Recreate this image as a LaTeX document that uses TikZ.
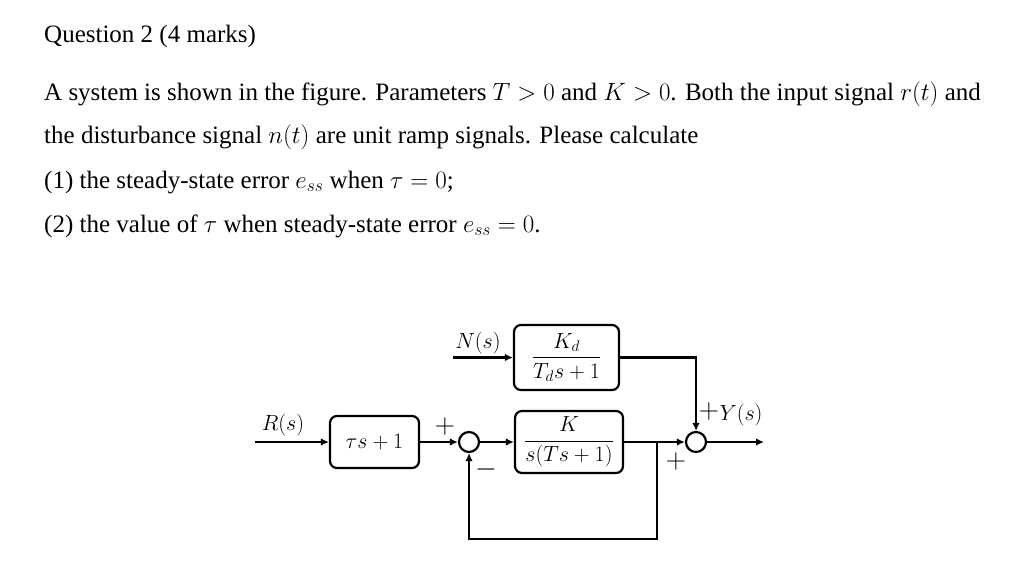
\RequirePackage{fix-cm}
\documentclass[tikz,border=0pt]{standalone}
\usepackage{amsmath}
\usepackage{fontspec}
\setmainfont{Liberation Serif}
\usetikzlibrary{arrows.meta}
\begin{document}
\begin{tikzpicture}[x=1pt,y=-1pt,
  blk/.style={draw, line width=2.2pt, rounded corners=7pt, inner sep=0pt, font=\fontsize{22}{25}\selectfont},
  sumc/.style={draw, line width=2.2pt, circle, minimum size=20pt, inner sep=0pt},
  arr/.style={line width=2.2pt, -{Latex[length=8pt,width=7.5pt]}},
  lbl/.style={inner sep=0pt, font=\fontsize{22}{25}\selectfont},
  sgn/.style={inner sep=0pt, font=\fontsize{28}{30}\selectfont},
  txt/.style={anchor=base west, inner sep=0pt, font=\fontsize{25}{30}\selectfont}]
\useasboundingbox[fill=white] (0,0) rectangle (1017,576);
% text
\node[txt] (t1) at (44,42) {Question 2 (4 marks)};
\node[txt] (t2) at (44,100) {A system is shown in the figure. Parameters $T>0$ and $K>0$. Both the input signal $r(t)$ and};
\node[txt] (t3) at (44,143) {the disturbance signal $n(t)$ are unit ramp signals. Please calculate};
\node[txt] (t4) at (44,188) {(1) the steady-state error $e_{ss}$ when\ $\tau=0$;};
\node[txt] (t5) at (44,232) {(2) the value of $\tau$ when steady-state error $e_{ss}=0$.};
% blocks
\node[blk, minimum width=89pt, minimum height=52pt] (b1) at (374.5,442) {$\tau s+1$};
\node[sumc] (s1) at (469,442) {};
\node[blk, minimum width=108pt, minimum height=62pt] (b2) at (569,442) {$\dfrac{K}{s(Ts+1)}$};
\node[blk, minimum width=105pt, minimum height=65pt] (b3) at (566.5,357.5) {$\dfrac{K_d}{T_d s+1}$};
\node[sumc] (s2) at (696,442) {};
\coordinate (rin) at (255,442);
\coordinate (nin) at (453,357.5);
\coordinate (yout) at (764,442);
\coordinate (br) at (657,442);
\coordinate (fb) at (657,539);
% connectors
\draw[arr] (rin) -- (b1);
\draw[arr] (b1) -- (s1);
\draw[arr] (s1) -- (b2);
\draw[arr] (b2) -- (s2);
\draw[arr] (nin) -- (b3);
\draw[arr] (b3.east) -| (s2);
\draw[arr] (br) -- (fb) -| (s1);
\draw[arr] (s2) -- (yout);
% labels
\node[lbl] (lr) at (283,425) {$R(s)$};
\node[lbl] (ln) at (478,343) {$N(s)$};
\node[sgn] (p1) at (445,426) {$+$};
\node[sgn] (m1) at (486,469) {$-$};
\node[sgn] (p2) at (676,461) {$+$};
\node[sgn] (p3) at (709,411) {$+$};
\node[lbl] (ly) at (741,415) {$Y(s)$};
\end{tikzpicture}
\end{document}
